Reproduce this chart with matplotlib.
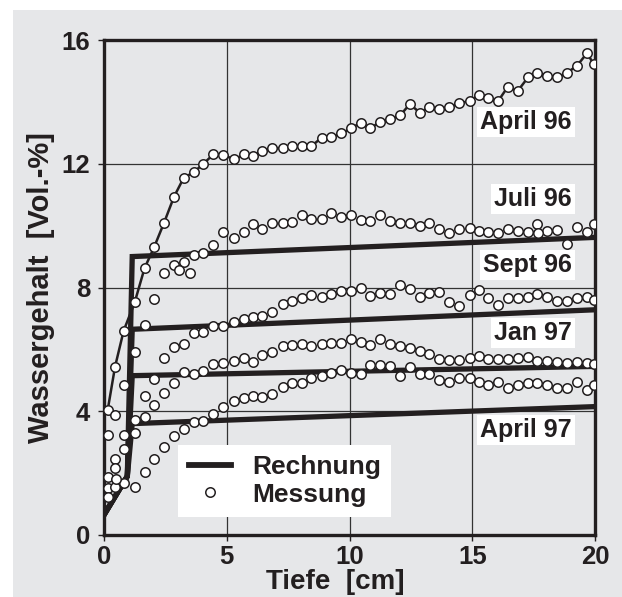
import matplotlib
matplotlib.use('Agg')
import matplotlib.pyplot as plt
from matplotlib.patches import Rectangle
from matplotlib.lines import Line2D

plt.rcParams['font.family'] = ['Liberation Sans', 'DejaVu Sans']
plt.rcParams['font.weight'] = 'bold'

# Tiefe [cm] der Messpunkte
depth = [0.15, 0.45, 0.8, 1.25, 1.65, 2.05, 2.45, 2.85, 3.25, 3.65, 4.05, 4.45, 4.85, 5.3, 5.7, 6.05, 6.45, 6.85,
         7.28, 7.66, 8.05, 8.45, 8.86, 9.26, 9.66, 10.07, 10.45, 10.85, 11.25, 11.65, 12.06, 12.46, 12.86, 13.25,
         13.66, 14.07, 14.48, 14.89, 15.27, 15.66, 16.05, 16.45, 16.85, 17.27, 17.65, 18.04, 18.45, 18.86, 19.27,
         19.68, 19.94]

# Messung (Wassergehalt Vol.-%)
apr96 = [4.04, 5.44, 6.6, 7.52, 8.62, 9.32, 10.1, 10.93, 11.55, 11.72, 12.0, 12.3, 12.29, 12.14, 12.3, 12.26, 12.42, 12.5,
         12.51, 12.58, 12.57, 12.57, 12.84, 12.87, 12.98, 13.14, 13.33, 13.14, 13.36, 13.44, 13.56, 13.93, 13.65, 13.82,
         13.76, 13.84, 13.95, 14.03, 14.22, 14.11, 14.02, 14.49, 14.35, 14.79, 14.92, 14.85, 14.79, 14.94, 15.17,
         15.58, 15.22]
jul96 = [3.23, 3.88, 4.85, 5.92, 6.79, 7.63, 8.48, 8.72, 8.83, 9.05, 9.1, 9.37, 9.78, 9.59, 9.78, 10.04, 9.89, 10.1,
         10.09, 10.12, 10.34, 10.21, 10.21, 10.41, 10.29, 10.34, 10.18, 10.16, 10.34, 10.16, 10.07, 10.07, 9.98, 10.07,
         9.88, 9.75, 9.88, 9.93, 9.83, 9.78, 9.75, 9.88, 9.83, 9.80, 10.05, 9.83, 9.86, 9.42, 9.96, 9.80, 10.05]
sep96 = [1.88, 2.45, 3.23, 3.72, 4.49, 5.03, 5.73, 6.08, 6.16, 6.54, 6.57, 6.75, 6.75, 6.87, 6.98, 7.05, 7.08, 7.21,
         7.46, 7.57, 7.67, 7.75, 7.70, 7.79, 7.89, 7.89, 8.0, 7.73, 7.83, 7.78, 8.08, 7.95, 7.70, 7.81, 7.84, 7.52,
         7.40, 7.75, 7.92, 7.65, 7.45, 7.65, 7.67, 7.70, 7.79, 7.70, 7.57, 7.57, 7.65, 7.70, 7.61]
jan97 = [1.51, 2.15, 2.77, 3.31, 3.82, 4.2, 4.58, 4.92, 5.26, 5.22, 5.31, 5.52, 5.55, 5.62, 5.71, 5.58, 5.82, 5.92,
         6.12, 6.14, 6.16, 6.12, 6.17, 6.19, 6.22, 6.35, 6.25, 6.14, 6.32, 6.16, 6.12, 6.06, 5.96, 5.85, 5.69, 5.66,
         5.66, 5.71, 5.79, 5.69, 5.69, 5.69, 5.71, 5.74, 5.63, 5.63, 5.58, 5.55, 5.60, 5.57, 5.53]
apr97 = [1.24, 1.56, 1.69, 1.56, 2.05, 2.45, 2.85, 3.2, 3.42, 3.66, 3.69, 3.91, 4.15, 4.34, 4.42, 4.49, 4.47, 4.56,
         4.77, 4.90, 4.92, 5.06, 5.15, 5.24, 5.33, 5.24, 5.20, 5.49, 5.49, 5.47, 5.14, 5.42, 5.22, 5.22, 5.00, 4.95,
         5.09, 5.06, 4.93, 4.85, 4.93, 4.74, 4.85, 4.92, 4.92, 4.85, 4.74, 4.74, 4.93, 4.68, 4.85]
# einzelne Punkte, keiner Reihe eindeutig zuzuordnen
extra_x = [0.5, 3.07, 3.5, 17.67]
extra_y = [1.8, 8.56, 8.46, 9.75]

# Rechnung
calc_x = [0.0, 0.95, 1.15, 20.0]
calc_jul96 = [0.65, 1.9, 9.0, 9.62]
calc_sep96 = [0.65, 1.9, 6.65, 7.28]
calc_jan97 = [0.65, 1.9, 5.15, 5.45]
calc_apr97 = [0.65, 1.9, 3.6, 4.15]

labels = ['April 96', 'Juli 96', 'Sept 96', 'Jan 97', 'April 97']
label_y = [13.35, 10.87, 8.74, 6.53, 3.39]

BG = '#e6e7e9'
INK = '#231f20'

fig = plt.figure(figsize=(6.22, 5.97), dpi=100)
fig.patches.append(Rectangle((13/622, 0), 1, 1 - 10/597, transform=fig.transFigure,
                             fc=BG, lw=0, zorder=-10))
ax = fig.add_axes([104/622, 62/597, 491/622, 495/597])
ax.set_facecolor(BG)

for c in [calc_jul96, calc_sep96, calc_jan97, calc_apr97]:
    ax.plot(calc_x, c, color=INK, lw=3.8, solid_joinstyle='miter', zorder=3)

mk = dict(marker='o', ms=6.8, mfc='white', mec=INK, mew=1.1)
ax.plot(depth, apr96, '-', color=INK, lw=1.8, zorder=4, **mk)
for s in [jul96, sep96, jan97, apr97]:
    ax.plot(depth, s, ls='none', zorder=4, **mk)
ax.plot(extra_x, extra_y, ls='none', zorder=4, **mk)

for t, y in zip(labels, label_y):
    ax.text(19.05, y, t, ha='right', va='center', fontsize=18, fontweight='bold', color=INK, zorder=6,
            bbox=dict(boxstyle='square,pad=0.12', fc='white', ec='none'))

ax.set_xlim(0, 20)
ax.set_ylim(0, 16)
ax.set_xticks([0, 5, 10, 15, 20])
ax.set_yticks([0, 4, 8, 12, 16])
ax.grid(True, color='#333333', lw=0.9)
ax.set_axisbelow(True)
ax.tick_params(labelsize=18.5, length=4, width=1, color=INK, labelcolor=INK)
ax.tick_params(axis='y', pad=6)
for sp in ax.spines.values():
    sp.set_linewidth(2.4)
    sp.set_color(INK)

ax.set_xlabel('Tiefe  [cm]', fontsize=20, fontweight='bold', color=INK)
ax.xaxis.set_label_coords(0.47, -0.068)
ax.set_ylabel('Wassergehalt  [Vol.-%]', fontsize=21, fontweight='bold', color=INK)
ax.yaxis.set_label_coords(-0.1, 0.5)

handles = [Line2D([], [], color=INK, lw=4.2),
           Line2D([], [], ls='none', **mk)]
leg = ax.legend(handles, ['Rechnung', 'Messung'], loc='lower left', bbox_to_anchor=(0.151, 0.036),
                borderaxespad=0, fontsize=19, frameon=True, fancybox=False, framealpha=1,
                handlelength=1.6, handletextpad=0.8, borderpad=0.4, labelspacing=0.12)
leg.get_frame().set_facecolor('white')
leg.get_frame().set_edgecolor('none')
leg.set_zorder(7)
for t in leg.get_texts():
    t.set_color(INK)

fig.savefig('out.png', dpi=100)
